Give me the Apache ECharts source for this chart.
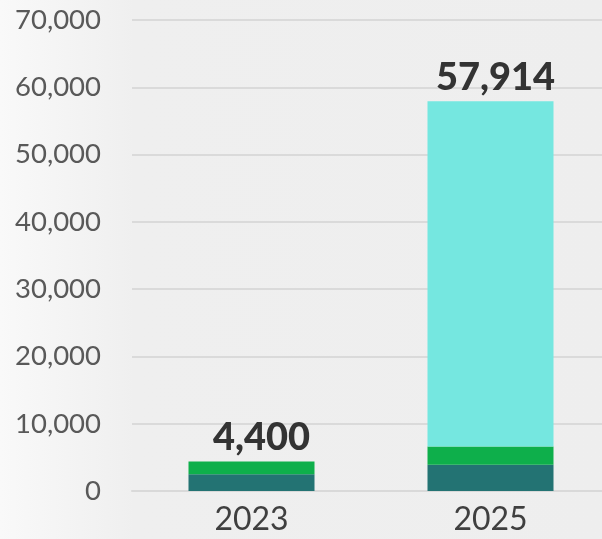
<!DOCTYPE html>
<html>
<head>
<meta charset="utf-8">
<script src="https://cdn.jsdelivr.net/npm/echarts@6/dist/echarts.min.js"></script>
<style>
html,body{margin:0;padding:0;overflow:hidden;width:602px;height:539px;}
#chart{width:610px;height:539px;}
</style>
</head>
<body>
<div id="chart"></div>
<script>
const categories = ['2023', '2025'];
const baseValues = [2500, 3900];
const midValues = [1900, 2700];
const topValues = [0, 51314];
const totals = [4400, 57914];
const yTicks = [0, 10000, 20000, 30000, 40000, 50000, 60000, 70000];

const chart = echarts.init(document.getElementById('chart'), null, {renderer: 'canvas'});
const fontFam = 'Lato, "Open Sans", sans-serif';
const barW = 126;

const option = {
  animation: false,
  backgroundColor: {
    type: 'linear', x: 0, y: 0, x2: 1, y2: 0,
    colorStops: [
      {offset: 0, color: '#f9f9f9'},
      {offset: 0.22, color: '#efefef'},
      {offset: 1, color: '#eeeeee'}
    ]
  },
  grid: {left: 132, top: 20, right: 0, height: 471, containLabel: false},
  xAxis: {
    type: 'category',
    data: categories,
    axisTick: {show: false},
    axisLine: {show: true, lineStyle: {color: '#d9d9d9', width: 2}},
    axisLabel: {color: '#3f3f3f', fontSize: 32, fontFamily: fontFam, margin: 13}
  },
  yAxis: {
    type: 'value',
    min: yTicks[0],
    max: yTicks[yTicks.length - 1],
    interval: 10000,
    axisLine: {show: false},
    axisTick: {show: false},
    splitLine: {lineStyle: {color: '#dadada', width: 2}},
    axisLabel: {
      color: '#595959', fontSize: 27.5, fontFamily: fontFam, margin: 31,
      formatter: v => v.toLocaleString('en-US')
    }
  },
  series: [
    {type: 'bar', stack: 'a', barWidth: barW, data: baseValues,
     itemStyle: {color: '#237373'}},
    {type: 'bar', stack: 'a', barWidth: barW, data: midValues,
     itemStyle: {color: '#0eaf4b'}},
    {type: 'bar', stack: 'a', barWidth: barW, data: topValues,
     itemStyle: {color: '#75e7e0'}},
    {type: 'bar', stack: 'a', barWidth: barW,
     data: [
       {value: 0, label: {offset: [10, 0]}},
       {value: 0, label: {offset: [5, 0]}}
     ],
     itemStyle: {color: 'transparent'},
     label: {
       show: true, position: 'top', distance: 5,
       color: '#333333', fontSize: 38, fontWeight: 900, fontFamily: fontFam,
       formatter: p => totals[p.dataIndex].toLocaleString('en-US')
     }}
  ]
};
chart.setOption(option);
</script>
</body>
</html>
